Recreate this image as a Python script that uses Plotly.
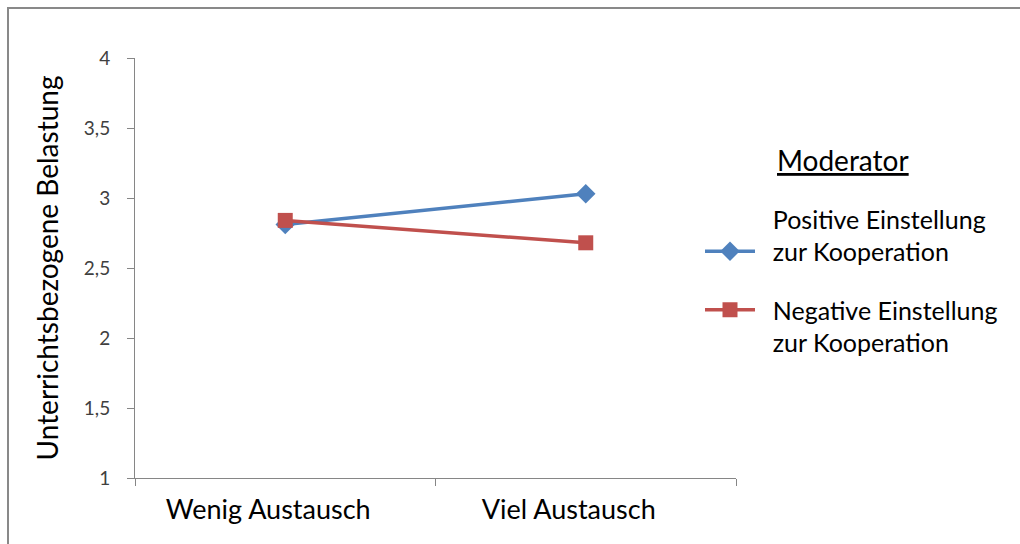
import plotly.graph_objects as go

# Data
categories = ["Wenig Austausch", "Viel Austausch"]
positive_values = [2.81, 3.03]
negative_values = [2.84, 2.68]
series_names = ["Positive Einstellung<br>zur Kooperation",
                "Negative Einstellung<br>zur Kooperation"]
y_tick_vals = [1, 1.5, 2, 2.5, 3, 3.5, 4]
y_tick_text = ["1", "1,5", "2", "2,5", "3", "3,5", "4"]

BLUE = "#4F81BD"
RED = "#C0504D"
FONT = "Lato"

W, H = 1020, 544
ML, MR, MT, MB = 135, 284, 58, 66
PW, PH = W - ML - MR, H - MT - MB


def px_x(px):
    return (px - ML) / PW


def px_y(py):
    return (H - MB - py) / PH


pad = "\u00a0" * 2

fig = go.Figure()
fig.add_trace(go.Scatter(
    x=categories, y=positive_values, mode="lines+markers",
    name=pad + series_names[0].replace("<br>", "<br>" + pad),
    line=dict(color=BLUE, width=3.5),
    marker=dict(symbol="diamond", size=15, color=BLUE),
    legend="legend",
))
fig.add_trace(go.Scatter(
    x=categories, y=negative_values, mode="lines+markers",
    name=pad + series_names[1].replace("<br>", "<br>" + pad),
    line=dict(color=RED, width=3.5),
    marker=dict(symbol="square", size=15, color=RED),
    legend="legend2",
))

legend_common = dict(
    xanchor="left", yanchor="top", itemwidth=50,
    font=dict(family=FONT, size=25, color="#000000"),
    bgcolor="rgba(0,0,0,0)", tracegroupgap=0,
)

fig.update_layout(
    width=W, height=H,
    margin=dict(l=ML, r=MR, t=MT, b=MB),
    paper_bgcolor="white", plot_bgcolor="white",
    font=dict(family=FONT, color="#000000"),
    showlegend=True,
    legend=dict(x=px_x(700), y=px_y(196), valign="bottom", **legend_common),
    legend2=dict(x=px_x(700), y=px_y(287), valign="top", **legend_common),
    xaxis=dict(
        type="category", range=[-0.5, 1.5],
        showline=True, linecolor="#868686", linewidth=1,
        ticks="outside", tickson="boundaries", ticklen=7,
        tickcolor="#868686", showgrid=False, zeroline=False,
        tickfont=dict(family=FONT, size=27, color="#000000"),
        ticklabelstandoff=8, ticklabelshift=-17,
    ),
    yaxis=dict(
        range=[1, 4], tickvals=y_tick_vals, ticktext=y_tick_text,
        showline=True, linecolor="#868686", linewidth=1,
        ticks="outside", ticklen=7, tickcolor="#868686",
        showgrid=False, zeroline=False,
        tickfont=dict(family=FONT, size=19, color="#404040"),
        ticklabelstandoff=13,
        title=dict(text="Unterrichtsbezogene Belastung",
                   font=dict(family=FONT, size=28, color="#000000"),
                   standoff=17),
    ),
    annotations=[dict(
        text="<u>Moderator</u>", xref="paper", yref="paper",
        x=px_x(775), y=px_y(160), xanchor="left", yanchor="middle",
        showarrow=False, font=dict(family=FONT, size=28, color="#000000"),
    )],
    shapes=[dict(
        type="rect", xref="paper", yref="paper",
        x0=px_x(8), x1=px_x(1040), y0=px_y(570), y1=px_y(8),
        line=dict(color="#898989", width=2), fillcolor="rgba(0,0,0,0)",
        layer="below",
    )],
)

fig.write_html("out.html")
